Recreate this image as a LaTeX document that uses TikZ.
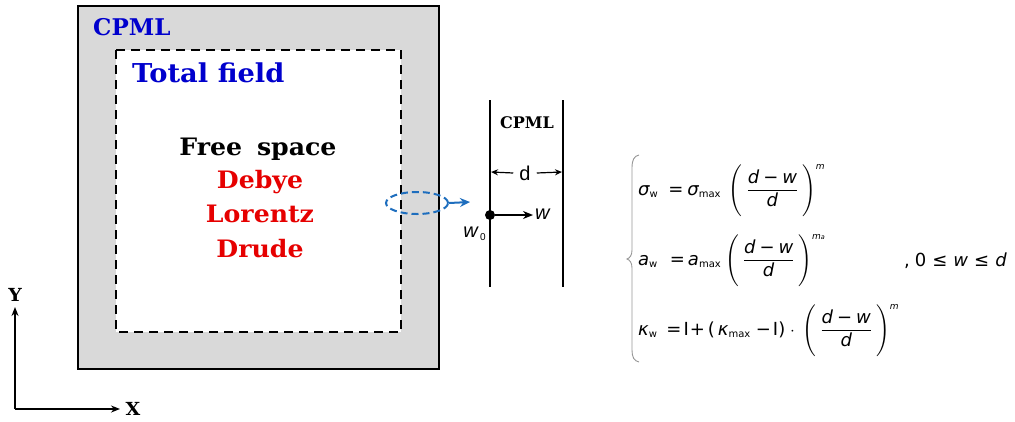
\documentclass[tikz,border=0pt]{standalone}
\usepackage{amsmath}
\usepackage{fontspec}
\newfontfamily\dser[FakeStretch=1.05]{DejaVu Serif}
\newfontfamily\dserplain{DejaVu Serif}
\newfontfamily\lsans{Liberation Sans}
\newfontfamily\dsans{DejaVu Sans}
\usetikzlibrary{arrows.meta,shapes.geometric}
\definecolor{cpmlgray}{RGB}{217,217,217}
\definecolor{lblblue}{RGB}{0,0,205}
\definecolor{lblred}{RGB}{230,0,0}
\definecolor{ellblue}{RGB}{30,110,190}
\definecolor{bracegray}{RGB}{150,150,150}
\newcommand{\eqi}[1]{\mbox{\dsans\itshape\fontsize{18}{21}\selectfont #1}}
\newcommand{\equ}[1]{\mbox{\dsans\fontsize{18}{21}\selectfont #1}}
\newcommand{\eqsub}[1]{\mbox{\dsans\fontsize{10}{12}\selectfont #1}}
\newcommand{\eqsup}[1]{\mbox{\dsans\itshape\fontsize{9}{10}\selectfont #1}}
\newcommand{\eqssub}[1]{\mbox{\dsans\itshape\fontsize{6.5}{7}\selectfont #1}}
\newcommand{\eqstrut}{\rule[-24pt]{0pt}{50pt}}
\newcommand{\eqfrac}{\dfrac{\eqi{d}\hspace{4pt}\equ{−}\hspace{4pt}\eqi{w}}{\eqi{d}}}
\newcommand{\eqparen}{\left(\eqstrut\hspace{4pt}\eqfrac\hspace{4pt}\right)}
\tikzset{
  lbl/.style={inner sep=0pt},
  bigbold/.style={lbl, font=\dser\bfseries\fontsize{24}{28}\selectfont},
  eqrow/.style={lbl, anchor=base west, font=\fontsize{18}{21}\selectfont},
  thickline/.style={line width=2pt, black},
  arr/.style={line width=1.6pt, -{Stealth[length=9pt,width=7pt]}},
}
\begin{document}
\begin{tikzpicture}[x=1pt,y=-1pt]
\useasboundingbox (0,0) rectangle (1015,421);
% boxes
\draw[line width=2pt, fill=cpmlgray] (78,6) rectangle (439,369);
\draw[line width=2pt, fill=white, dash pattern=on 9pt off 6pt] (116,50) rectangle (401,332);
% labels in boxes
\node[bigbold, text=lblblue, anchor=base west, font=\dserplain\bfseries\fontsize{23}{27}\selectfont] (cpml) at (93,35) {CPML};
\node[bigbold, text=lblblue, anchor=base west, font=\dser\bfseries\fontsize{26}{30}\selectfont] (total) at (132,82) {Total field};
\node[bigbold, anchor=base] (free) at (258,155) {Free\hspace{6pt} space};
\node[bigbold, text=lblred, anchor=base] (debye) at (260,188) {Debye};
\node[bigbold, text=lblred, anchor=base] (lorentz) at (260,222) {Lorentz};
\node[bigbold, text=lblred, anchor=base] (drude) at (260,257) {Drude};
% axes
\coordinate (O) at (15,409);
\coordinate (ytip) at (15,307);
\coordinate (xtip) at (120,409);
\draw[arr] (O) -- (ytip);
\draw[arr] (O) -- (xtip);
\node[lbl, font=\dser\bfseries\fontsize{18}{20}\selectfont] (ylbl) at (15,295) {Y};
\node[lbl, font=\dser\bfseries\fontsize{18}{20}\selectfont] (xlbl) at (133,409) {X};
% ellipse
\node[ellipse, draw=ellblue, line width=2pt, dash pattern=on 7pt off 4pt, minimum width=62pt, minimum height=22pt, inner sep=0pt] (ell) at (417,203) {};
\coordinate (etip) at (470,202);
\draw[line width=2pt, ellblue, -{Stealth[length=10pt,width=9pt]}] (ell.east) -- (etip);
% CPML band
\coordinate (l1t) at (490,100);
\coordinate (l1b) at (490,287);
\coordinate (l2t) at (563,100);
\coordinate (l2b) at (563,287);
\draw[thickline] (l1t) -- (l1b);
\draw[thickline] (l2t) -- (l2b);
\node[lbl, font=\dserplain\bfseries\fontsize{16}{19}\selectfont] (bcpml) at (527,123) {CPML};
\node[inner sep=6pt, font=\lsans\fontsize{20}{24}\selectfont] (dlbl) at (525,173) {d};
\coordinate (da) at (491,172);
\coordinate (db) at (562,172);
\draw[line width=1.2pt, -{Stealth[length=7pt,width=6pt]}] (dlbl.west) -- (da);
\draw[line width=1.2pt, -{Stealth[length=7pt,width=6pt]}] (dlbl.east) -- (db);
\node[circle, fill=black, inner sep=0pt, minimum size=10pt] (w0dot) at (490,215) {};
\coordinate (wtip) at (533,215);
\draw[line width=2pt, -{Stealth[length=10pt,width=8pt]}] (w0dot) -- (wtip);
\node[lbl, anchor=west, font=\lsans\itshape\fontsize{20}{22}\selectfont] (wlbl) at (535,214) {w};
\node[lbl, anchor=base east, font=\lsans\itshape\fontsize{20}{22}\selectfont] (w0lbl) at (478,237) {w};
\node[lbl, anchor=base west, font=\lsans\fontsize{10}{12}\selectfont] (w0sub) at (480,240) {0};
% brace
\draw[bracegray, line width=0.9pt] (639,155) .. controls (634,156) and (632,160) .. (632,168)
  -- (632,250) .. controls (632,255) and (630,258) .. (627,259)
  .. controls (630,260) and (632,263) .. (632,268)
  -- (632,350) .. controls (632,357) and (634,361) .. (639,362);
% equations
\node[eqrow] (r1) at (638,195) {$\eqi{σ}_{\eqsub{w}}\hspace{10pt}\equ{=}\hspace{4pt}\eqi{σ}_{\eqsub{max}}\hspace{5pt}\eqparen^{\eqsup{m}}$};
\node[eqrow] (r2) at (638,265) {$\eqi{a}_{\eqsub{w}}\hspace{12pt}\equ{=}\hspace{3pt}\eqi{a}_{\eqsub{max}}\hspace{1pt}\eqparen^{\eqsup{m}\eqssub{a}}$};
\node[eqrow] (r3) at (638,335) {$\eqi{κ}_{\eqsub{w}}\hspace{9pt}\equ{=}\hspace{2pt}\equ{I}\hspace{1pt}\equ{+}\hspace{3pt}\equ{(}\hspace{3pt}\eqi{κ}_{\eqsub{max}}\hspace{5pt}\equ{−}\hspace{2pt}\equ{I}\equ{)}\hspace{1pt}\cdot\hspace{4pt}\eqparen^{\eqsup{m}}$};
\node[lbl, anchor=base west, font=\dsans\fontsize{18}{22}\selectfont] (cond) at (904,266) {,\hspace{5pt}0\hspace{6pt}≤\hspace{6pt}{\itshape w}\hspace{6pt}≤\hspace{6pt}{\itshape d}};
\end{tikzpicture}
\end{document}
